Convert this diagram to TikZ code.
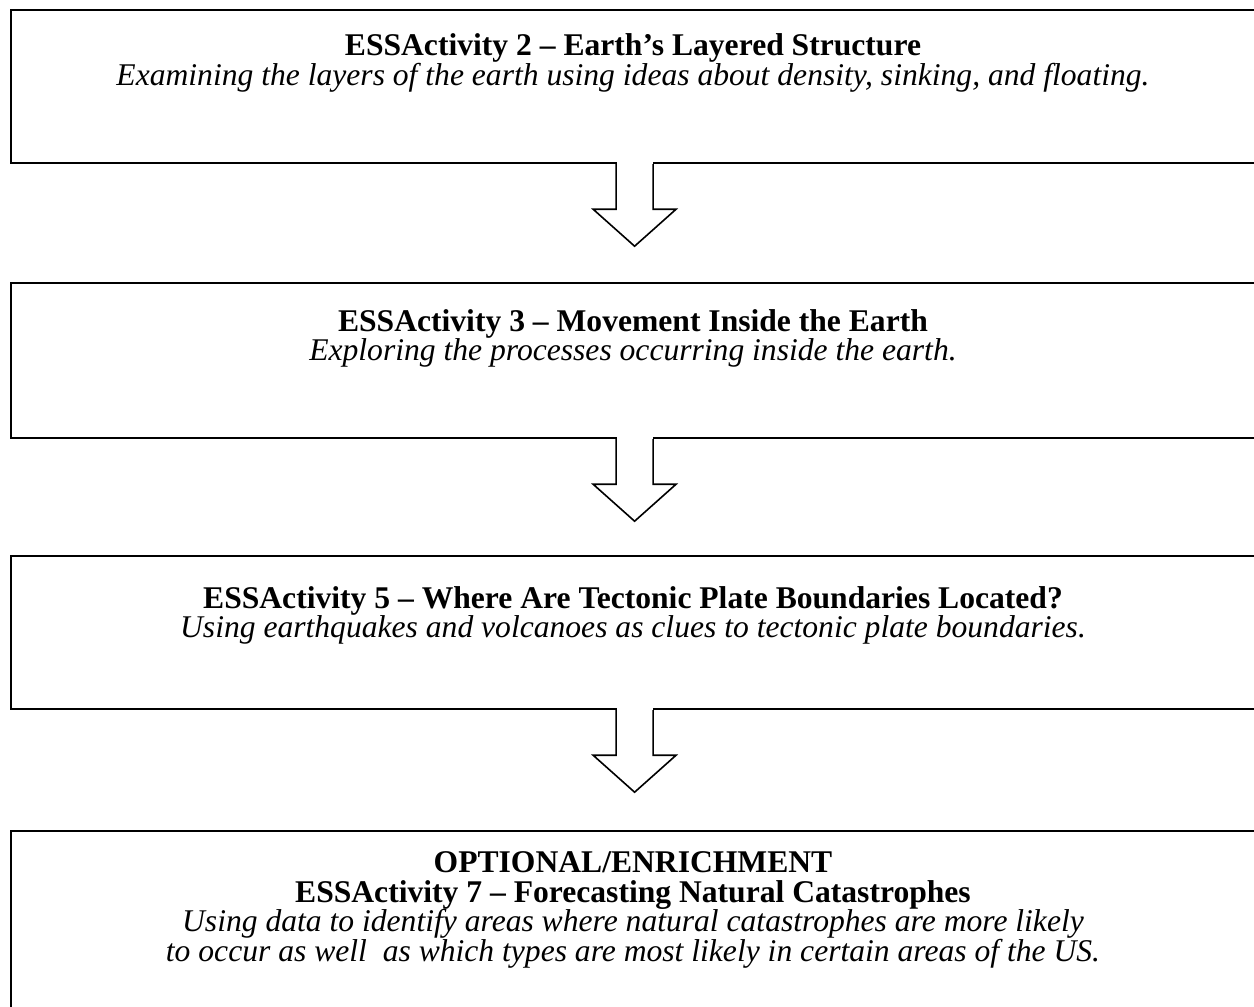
\documentclass[tikz,border=0pt]{standalone}
\usepackage{fontspec}
\setmainfont{Liberation Serif}

\tikzset{
  panel/.style={draw, line width=1.1pt, anchor=north west, inner sep=0pt, minimum width=623.5pt},
  caption/.style={align=center, font=\fontsize{15.8}{14.8}\selectfont},
  pics/downarrow/.style={code={
    \fill[white] (-18,-2) rectangle (18,2);
    \draw[line width=0.8pt, line join=miter]
      (-18.5,0) -- (-18.5,45) -- (-41.5,45) -- (0,82) -- (41.5,45) -- (18.5,45) -- (18.5,0);
  }}
}

\begin{document}
\begin{tikzpicture}[x=0.5pt,y=-0.5pt]
\useasboundingbox (0,0) rectangle (1254,1007);

% boxes
\node[panel, minimum height=76.5pt] (box1) at (10,9) {};
\node[panel, minimum height=77.5pt] (box2) at (10,282) {};
\node[panel, minimum height=76.5pt] (box3) at (10,555) {};
\node[panel, minimum height=105pt] (box4) at (10,830) {};

% texts
\node[caption] (txt1) at (633,63) {\textbf{ESSActivity 2 -- Earth's Layered Structure}\\
  \textit{Examining the layers of the earth using ideas about density, sinking, and floating.}};
\node[caption] (txt2) at (633,338.5) {\textbf{ESSActivity 3 -- Movement Inside the Earth}\\
  \textit{Exploring the processes occurring inside the earth.}};
\node[caption] (txt3) at (633,615.5) {\textbf{ESSActivity 5 -- Where Are Tectonic Plate Boundaries Located?}\\
  \textit{Using earthquakes and volcanoes as clues to tectonic plate boundaries.}};
\node[caption] (txt4) at (633,910) {\textbf{OPTIONAL/ENRICHMENT}\\
  \textbf{ESSActivity 7 -- Forecasting Natural Catastrophes}\\
  \textit{Using data to identify areas where natural catastrophes are more likely}\\
  \textit{to occur as well\ \ as which types are most likely in certain areas of the US.}};

% arrows
\pic at (box1.south) {downarrow};
\pic at (box2.south) {downarrow};
\pic at (box3.south) {downarrow};
\end{tikzpicture}
\end{document}
